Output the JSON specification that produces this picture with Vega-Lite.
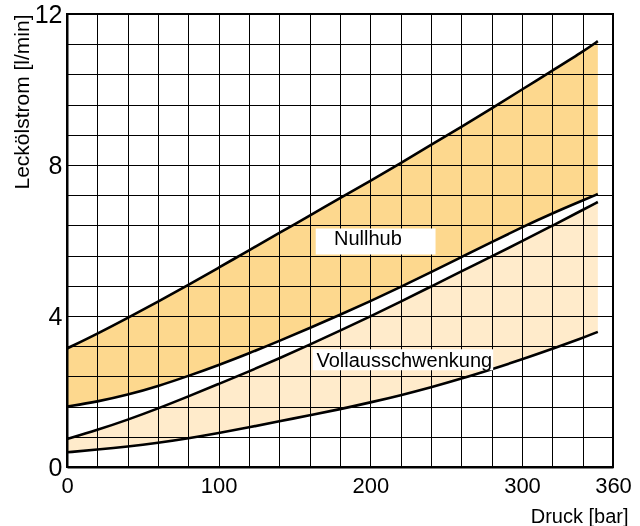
{
  "$schema": "https://vega.github.io/schema/vega-lite/v6.json",
  "width": 546,
  "height": 453,
  "autosize": "none",
  "padding": {"left": 67, "top": 14, "right": 27, "bottom": 59},
  "background": "white",
  "config": {
    "view": {"stroke": "#000", "strokeWidth": 2},
    "font": "Liberation Sans",
    "axis": {
      "labelFont": "Liberation Sans",
      "titleFont": "Liberation Sans",
      "labelColor": "#000",
      "titleColor": "#000",
      "titleFontWeight": "normal",
      "grid": true,
      "gridColor": "#000",
      "gridOpacity": 1,
      "gridWidth": 1,
      "ticks": false,
      "tickSize": 0,
      "domain": true,
      "domainColor": "#000",
      "domainWidth": 2,
      "labelOverlap": false,
      "labelFlush": false
    }
  },
  "datasets": {
    "curves": [
      {"druck": 0, "n_o": 3.14, "n_u": 1.60, "v_o": 0.74, "v_u": 0.39},
      {"druck": 20, "n_o": 3.53, "n_u": 1.73, "v_o": 0.98, "v_u": 0.46},
      {"druck": 40, "n_o": 3.95, "n_u": 1.91, "v_o": 1.25, "v_u": 0.54},
      {"druck": 60, "n_o": 4.38, "n_u": 2.14, "v_o": 1.55, "v_u": 0.64},
      {"druck": 80, "n_o": 4.82, "n_u": 2.41, "v_o": 1.87, "v_u": 0.76},
      {"druck": 100, "n_o": 5.28, "n_u": 2.70, "v_o": 2.20, "v_u": 0.90},
      {"druck": 120, "n_o": 5.74, "n_u": 3.01, "v_o": 2.53, "v_u": 1.05},
      {"druck": 140, "n_o": 6.20, "n_u": 3.34, "v_o": 2.88, "v_u": 1.21},
      {"druck": 160, "n_o": 6.66, "n_u": 3.68, "v_o": 3.24, "v_u": 1.37},
      {"druck": 180, "n_o": 7.12, "n_u": 4.03, "v_o": 3.61, "v_u": 1.53},
      {"druck": 200, "n_o": 7.58, "n_u": 4.39, "v_o": 3.99, "v_u": 1.71},
      {"druck": 220, "n_o": 8.05, "n_u": 4.77, "v_o": 4.38, "v_u": 1.90},
      {"druck": 240, "n_o": 8.53, "n_u": 5.16, "v_o": 4.78, "v_u": 2.11},
      {"druck": 260, "n_o": 9.01, "n_u": 5.56, "v_o": 5.18, "v_u": 2.34},
      {"druck": 280, "n_o": 9.50, "n_u": 5.96, "v_o": 5.58, "v_u": 2.59},
      {"druck": 300, "n_o": 10.00, "n_u": 6.35, "v_o": 5.98, "v_u": 2.85},
      {"druck": 320, "n_o": 10.50, "n_u": 6.72, "v_o": 6.39, "v_u": 3.13},
      {"druck": 340, "n_o": 11.00, "n_u": 7.06, "v_o": 6.81, "v_u": 3.42},
      {"druck": 350, "n_o": 11.28, "n_u": 7.23, "v_o": 7.02, "v_u": 3.58}
    ],
    "labels": [
      {"text": "Nullhub", "x1": 164, "x2": 243, "y1": 5.63, "y2": 6.32, "tx": 176, "ty": 5.88},
      {"text": "Vollausschwenkung", "x1": 162, "x2": 281, "y1": 2.56, "y2": 3.12, "tx": 164.5, "ty": 2.66}
    ]
  },
  "encoding": {
    "x": {
      "type": "quantitative",
      "scale": {"domain": [0, 360], "nice": false, "zero": false},
      "axis": {
        "title": "Druck [bar]",
        "titleFontSize": 20,
        "titleX": 561,
        "titleY": 55,
        "titleAlign": "right",
        "titleBaseline": "alphabetic",
        "labelFontSize": 22,
        "labelPadding": 8,
        "values": [0, 20, 40, 60, 80, 100, 120, 140, 160, 180, 200, 220, 240, 260, 280, 300, 320, 340, 360],
        "labelExpr": "indexof([0,100,200,300,360], datum.value) >= 0 ? datum.label : ''"
      }
    },
    "y": {
      "type": "quantitative",
      "scale": {"domain": [0, 12], "nice": false, "zero": false},
      "axis": {
        "title": "Leckölstrom [l/min]",
        "titleFontSize": 21,
        "titleX": -56,
        "titleY": 0,
        "titleAngle": -90,
        "titleAlign": "right",
        "titleBaseline": "top",
        "labelFontSize": 25,
        "labelPadding": 5,
        "values": [0, 0.8, 1.6, 2.4, 3.2, 4, 4.8, 5.6, 6.4, 7.2, 8, 8.8, 9.6, 10.4, 11.2, 12],
        "labelExpr": "abs(datum.value/4 - round(datum.value/4)) < 0.01 ? datum.label : ''"
      }
    }
  },
  "layer": [
    {
      "data": {"name": "curves"},
      "mark": {"type": "area", "color": "#fdd88e", "blend": "multiply", "interpolate": "basis"},
      "encoding": {"x": {"field": "druck"}, "y": {"field": "n_o"}, "y2": {"field": "n_u"}}
    },
    {
      "data": {"name": "curves"},
      "mark": {"type": "area", "color": "#ffebcb", "blend": "multiply", "interpolate": "basis"},
      "encoding": {"x": {"field": "druck"}, "y": {"field": "v_o"}, "y2": {"field": "v_u"}}
    },
    {
      "data": {"name": "curves"},
      "mark": {"type": "line", "color": "#000", "strokeWidth": 2.6, "interpolate": "basis"},
      "encoding": {"x": {"field": "druck"}, "y": {"field": "n_o"}}
    },
    {
      "data": {"name": "curves"},
      "mark": {"type": "line", "color": "#000", "strokeWidth": 2.6, "interpolate": "basis"},
      "encoding": {"x": {"field": "druck"}, "y": {"field": "n_u"}}
    },
    {
      "data": {"name": "curves"},
      "mark": {"type": "line", "color": "#000", "strokeWidth": 2.6, "interpolate": "basis"},
      "encoding": {"x": {"field": "druck"}, "y": {"field": "v_o"}}
    },
    {
      "data": {"name": "curves"},
      "mark": {"type": "line", "color": "#000", "strokeWidth": 2.6, "interpolate": "basis"},
      "encoding": {"x": {"field": "druck"}, "y": {"field": "v_u"}}
    },
    {
      "data": {"name": "labels"},
      "mark": {"type": "rect", "color": "#fff"},
      "encoding": {"x": {"field": "x1"}, "x2": {"field": "x2"}, "y": {"field": "y1"}, "y2": {"field": "y2"}}
    },
    {
      "data": {"name": "labels"},
      "mark": {"type": "text", "align": "left", "baseline": "alphabetic", "fontSize": 20, "font": "Liberation Sans", "color": "#000"},
      "encoding": {"x": {"field": "tx"}, "y": {"field": "ty"}, "text": {"field": "text"}}
    }
  ]
}
